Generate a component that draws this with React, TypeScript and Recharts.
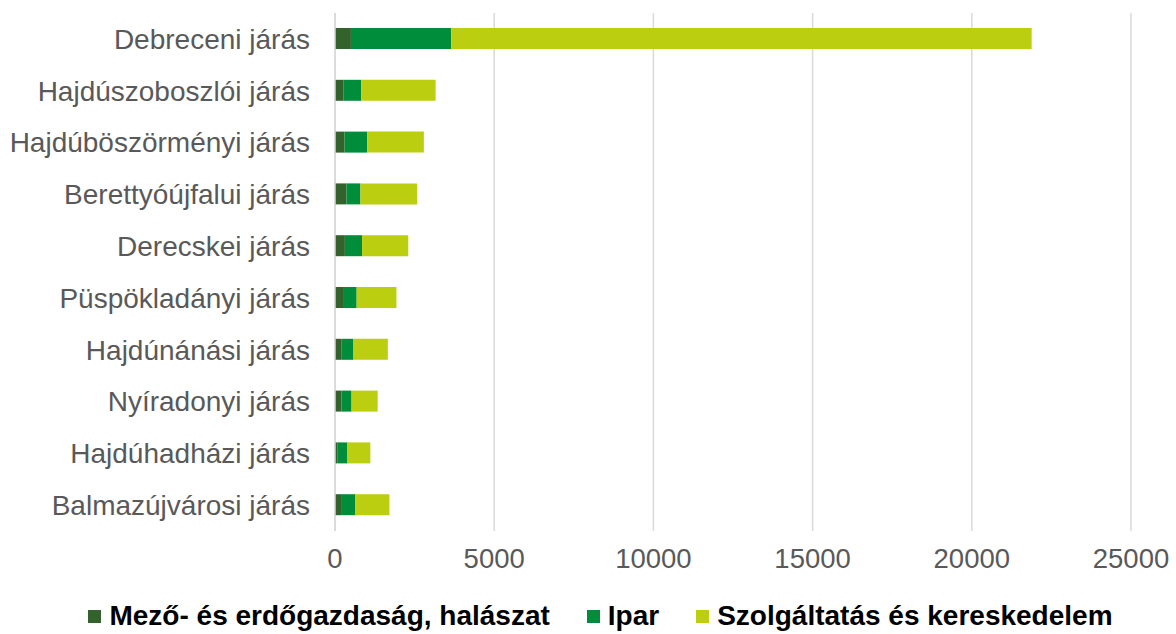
import { BarChart, Bar, XAxis, YAxis, CartesianGrid, Legend } from "recharts";

const categories = [
  "Debreceni járás",
  "Hajdúszoboszlói járás",
  "Hajdúböszörményi járás",
  "Berettyóújfalui járás",
  "Derecskei járás",
  "Püspökladányi járás",
  "Hajdúnánási járás",
  "Nyíradonyi járás",
  "Hajdúhadházi járás",
  "Balmazújvárosi járás",
];
const mezo = [500, 260, 300, 360, 310, 280, 210, 200, 70, 190];
const ipar = [3150, 560, 710, 440, 540, 400, 370, 320, 320, 450];
const szolg = [18230, 2340, 1780, 1780, 1450, 1250, 1080, 820, 720, 1070];
const xTicks = [0, 5000, 10000, 15000, 20000, 25000];

const seriesNames = ["Mező- és erdőgazdaság, halászat", "Ipar", "Szolgáltatás és kereskedelem"];
const colors = ["#33622C", "#008D3B", "#BBCE10"];

const data = categories.map((name, i) => ({
  name,
  mezo: mezo[i],
  ipar: ipar[i],
  szolg: szolg[i],
}));

const font = "'Liberation Sans', Arial, sans-serif";

function LegendContent() {
  return (
    <div
      style={{
        display: "flex",
        justifyContent: "center",
        alignItems: "center",
        height: 32,
        paddingLeft: 25,
        fontFamily: font,
        fontWeight: "bold",
        fontSize: 28,
        color: "#000",
      }}
    >
      {seriesNames.map((n, i) => (
        <div key={n} style={{ display: "flex", alignItems: "center", marginRight: i < 2 ? 37 : 0 }}>
          <span style={{ width: 13, height: 13, background: colors[i], marginRight: 8, display: "inline-block" }} />
          <span>{n}</span>
        </div>
      ))}
    </div>
  );
}

export default function App() {
  return (
    <div style={{ position: "absolute", left: 0, top: 0, width: 1176, height: 634, background: "#fff" }}>
      <BarChart
        width={1176}
        height={634}
        data={data}
        layout="vertical"
        margin={{ top: 13, right: 45, left: 0, bottom: 31 }}
        barSize={21}
      >
        <CartesianGrid horizontal={false} stroke="#d9d9d9" strokeWidth={1.5} />
        <XAxis
          type="number"
          domain={[0, 25000]}
          ticks={xTicks}
          axisLine={false}
          tickLine={false}
          tickMargin={11}
          height={40}
          tick={{ fontSize: 27.5, fill: "#595959", fontFamily: font }}
        />
        <YAxis
          type="category"
          dataKey="name"
          width={335}
          interval={0}
          axisLine={{ stroke: "#d9d9d9", strokeWidth: 1.5 }}
          tickLine={false}
          tickMargin={19}
          tick={{ fontSize: 28, fill: "#595959", fontFamily: font }}
        />
        <Legend verticalAlign="bottom" content={<LegendContent />} wrapperStyle={{ left: 0, width: 1176, bottom: 2 }} />
        <Bar dataKey="mezo" stackId="a" fill={colors[0]} isAnimationActive={false} />
        <Bar dataKey="ipar" stackId="a" fill={colors[1]} isAnimationActive={false} />
        <Bar dataKey="szolg" stackId="a" fill={colors[2]} isAnimationActive={false} />
      </BarChart>
    </div>
  );
}
